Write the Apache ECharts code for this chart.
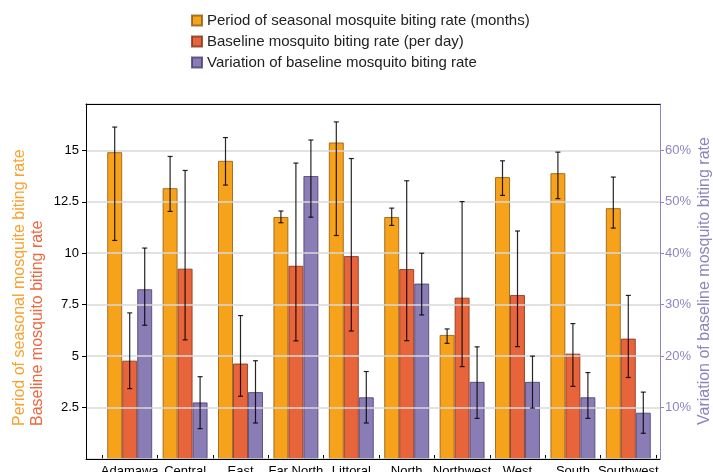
<!DOCTYPE html>
<html>
<head>
<meta charset="utf-8">
<script src="https://cdn.jsdelivr.net/npm/echarts@6/dist/echarts.min.js"></script>
<style>html,body{margin:0;padding:0;background:#fff;}#c{width:713px;height:472px;}</style>
</head>
<body>
<div id="c"></div>
<script>
var categories = ['Adamawa','Central','East','Far North','Littoral','North','Northwest','West','South','Southwest'];

var seasonalPeriod     = [14.91, 13.16, 14.49, 11.76, 15.38, 11.76, 6.03, 13.70, 13.89, 12.19];
var seasonalPeriodLow  = [10.62, 12.03, 13.31, 11.48, 10.86, 11.35, 5.62, 12.81, 12.65, 11.22];
var seasonalPeriodHigh = [16.13, 14.70, 15.62, 12.05, 16.38, 12.19, 6.32, 14.49, 14.91, 13.70];

var baselineRate     = [4.78, 9.25, 4.64, 9.39, 9.86, 9.23, 7.84, 7.97, 5.12, 5.85];
var baselineRateLow  = [3.42, 5.79, 3.05, 5.74, 6.22, 5.75, 4.49, 5.46, 3.53, 3.96];
var baselineRateHigh = [7.10, 14.02, 6.97, 14.38, 14.60, 13.52, 12.51, 11.08, 6.58, 7.95];

var variationPct     = [33.0, 11.0, 13.0, 55.0, 12.0, 34.1, 15.0, 15.0, 12.0, 9.0];
var variationPctLow  = [26.0, 5.9, 7.0, 47.0, 7.0, 28.0, 7.9, 9.9, 7.9, 5.0];
var variationPctHigh = [41.0, 16.0, 19.1, 62.0, 17.0, 40.0, 21.8, 20.0, 16.8, 13.0];

var leftTicks = [2.5, 5, 7.5, 10, 12.5, 15];
var rightTicks = ['10%','20%','30%','40%','50%','60%'];

var ORANGE = '#F7A21B', RED = '#E8643A', PURPLE = '#8A7DB6';
var FONT = 'Liberation Sans, Arial, sans-serif';
var GAP = 0.188;
var LEFT_MAX = 17.25, RIGHT_MAX = 69;

function errData(lo, hi) {
  return lo.map(function (v, i) { return [i, v, hi[i]]; });
}
function makeErr(offsetIdx) {
  return function (params, api) {
    var x = api.value(0), lo = api.value(1), hi = api.value(2);
    var pLo = api.coord([x, lo]), pHi = api.coord([x, hi]);
    var band = api.size([1, 0])[0];
    var bw = band * (1 - GAP) / 3;
    var cx = pLo[0] + offsetIdx * bw;
    var cap = 2.5;
    var st = { stroke: 'rgba(0,0,0,0.85)', lineWidth: 1.2 };
    return { type: 'group', children: [
      { type: 'line', shape: { x1: cx, y1: pHi[1], x2: cx, y2: pLo[1] }, style: st },
      { type: 'line', shape: { x1: cx - cap, y1: pHi[1], x2: cx + cap, y2: pHi[1] }, style: st },
      { type: 'line', shape: { x1: cx - cap, y1: pLo[1], x2: cx + cap, y2: pLo[1] }, style: st }
    ]};
  };
}

var chart = echarts.init(document.getElementById('c'), null, { renderer: 'canvas' });
chart.setOption({
  animation: false,
  textStyle: { fontFamily: FONT },
  legend: {
    orient: 'vertical', left: 186, top: 8, itemGap: 6,
    itemWidth: 10, itemHeight: 10, icon: 'rect',
    textStyle: { fontSize: 15, color: '#222', fontFamily: FONT },
    data: ['Period of seasonal mosquite biting rate (months)', 'Baseline mosquito biting rate (per day)', 'Variation of baseline mosquito biting rate']
  },
  graphic: [
    { type: 'text', x: 20, y: 426, rotation: Math.PI / 2, silent: true,
      style: { text: 'Period of seasonal mosquite biting rate', fill: '#F9A12E', font: '16px ' + FONT,
        textAlign: 'left', textVerticalAlign: 'middle' } },
    { type: 'text', x: 37.5, y: 426, rotation: Math.PI / 2, silent: true,
      style: { text: 'Baseline mosquito biting rate', fill: '#EB6841', font: '16px ' + FONT,
        textAlign: 'left', textVerticalAlign: 'middle' } },
    { type: 'text', x: 705, y: 281, rotation: Math.PI / 2, silent: true,
      style: { text: 'Variation of baseline mosquito biting rate', fill: '#8E84BF', font: '16px ' + FONT,
        textAlign: 'center', textVerticalAlign: 'middle' } }
  ],
  grid: [
    { left: 86, right: 53, top: 104, bottom: 13, containLabel: false, outerBoundsMode: 'none' },
    { left: 102, right: 57, top: 104, bottom: 13, containLabel: false, outerBoundsMode: 'none' }
  ],
  xAxis: [
    { gridIndex: 0, type: 'value', min: 0, max: 1, position: 'bottom', z: 4,
      axisLine: { show: true, onZero: false, lineStyle: { color: '#000', width: 1 } },
      axisTick: { show: false }, axisLabel: { show: false }, splitLine: { show: false } },
    { gridIndex: 1, type: 'category', data: categories, position: 'bottom',
      axisLine: { show: false, onZero: false },
      axisTick: { show: true, inside: true, length: 4, alignWithLabel: false, lineStyle: { color: '#000' } },
      axisLabel: { show: true, margin: 6, fontSize: 13, color: '#000', interval: 0, fontFamily: FONT },
      splitLine: { show: false } },
    { gridIndex: 0, type: 'value', min: 0, max: 1, position: 'top', z: 4,
      axisLine: { show: true, onZero: false, lineStyle: { color: '#000', width: 1 } },
      axisTick: { show: false }, axisLabel: { show: false }, splitLine: { show: false } }
  ],
  yAxis: [
    { gridIndex: 0, type: 'value', position: 'left', min: 0, max: LEFT_MAX, interval: 2.5, z: 4,
      axisLine: { show: true, onZero: false, lineStyle: { color: '#000', width: 1 } },
      axisTick: { show: true, length: 4, lineStyle: { color: '#000' } },
      axisLabel: { margin: 7, fontSize: 13, color: '#000', showMinLabel: false, showMaxLabel: false, fontFamily: FONT,
        formatter: function (v) { return leftTicks.indexOf(v) >= 0 ? String(v) : ''; } },
      splitLine: { show: true, lineStyle: { color: '#d9d9d9', width: 1.5 } } },
    { gridIndex: 0, type: 'value', position: 'right', min: 0, max: RIGHT_MAX, interval: 10, z: 4,
      axisLine: { show: true, onZero: false, lineStyle: { color: '#8E84BF', width: 1 } },
      axisTick: { show: true, length: 4, lineStyle: { color: '#8E84BF' } },
      axisLabel: { margin: 5, fontSize: 13, color: '#8E84BF', showMinLabel: false, showMaxLabel: false, fontFamily: FONT,
        formatter: function (v) { var s = v + '%'; return rightTicks.indexOf(s) >= 0 ? s : ''; } },
      splitLine: { show: false } },
    { gridIndex: 1, type: 'value', min: 0, max: LEFT_MAX, show: false },
    { gridIndex: 1, type: 'value', min: 0, max: RIGHT_MAX, show: false }
  ],
  series: [
    { name: 'Period of seasonal mosquite biting rate (months)', type: 'bar', xAxisIndex: 1, yAxisIndex: 2,
      data: seasonalPeriod, barGap: '0%', barCategoryGap: (GAP * 100) + '%',
      itemStyle: { color: ORANGE, borderColor: 'rgba(140,90,20,0.8)', borderWidth: 1 } },
    { name: 'Baseline mosquito biting rate (per day)', type: 'bar', xAxisIndex: 1, yAxisIndex: 2,
      data: baselineRate, barGap: '0%', barCategoryGap: (GAP * 100) + '%',
      itemStyle: { color: RED, borderColor: 'rgba(130,50,25,0.8)', borderWidth: 1 } },
    { name: 'Variation of baseline mosquito biting rate', type: 'bar', xAxisIndex: 1, yAxisIndex: 3,
      data: variationPct, barGap: '0%', barCategoryGap: (GAP * 100) + '%',
      itemStyle: { color: PURPLE, borderColor: 'rgba(70,60,110,0.8)', borderWidth: 1 } },
    { name: 'errSeasonal', type: 'custom', xAxisIndex: 1, yAxisIndex: 2, z: 5,
      renderItem: makeErr(-1), data: errData(seasonalPeriodLow, seasonalPeriodHigh) },
    { name: 'errBaseline', type: 'custom', xAxisIndex: 1, yAxisIndex: 2, z: 5,
      renderItem: makeErr(0), data: errData(baselineRateLow, baselineRateHigh) },
    { name: 'errVariation', type: 'custom', xAxisIndex: 1, yAxisIndex: 3, z: 5,
      renderItem: makeErr(1), data: errData(variationPctLow, variationPctHigh) }
  ]
});
</script>
</body>
</html>
